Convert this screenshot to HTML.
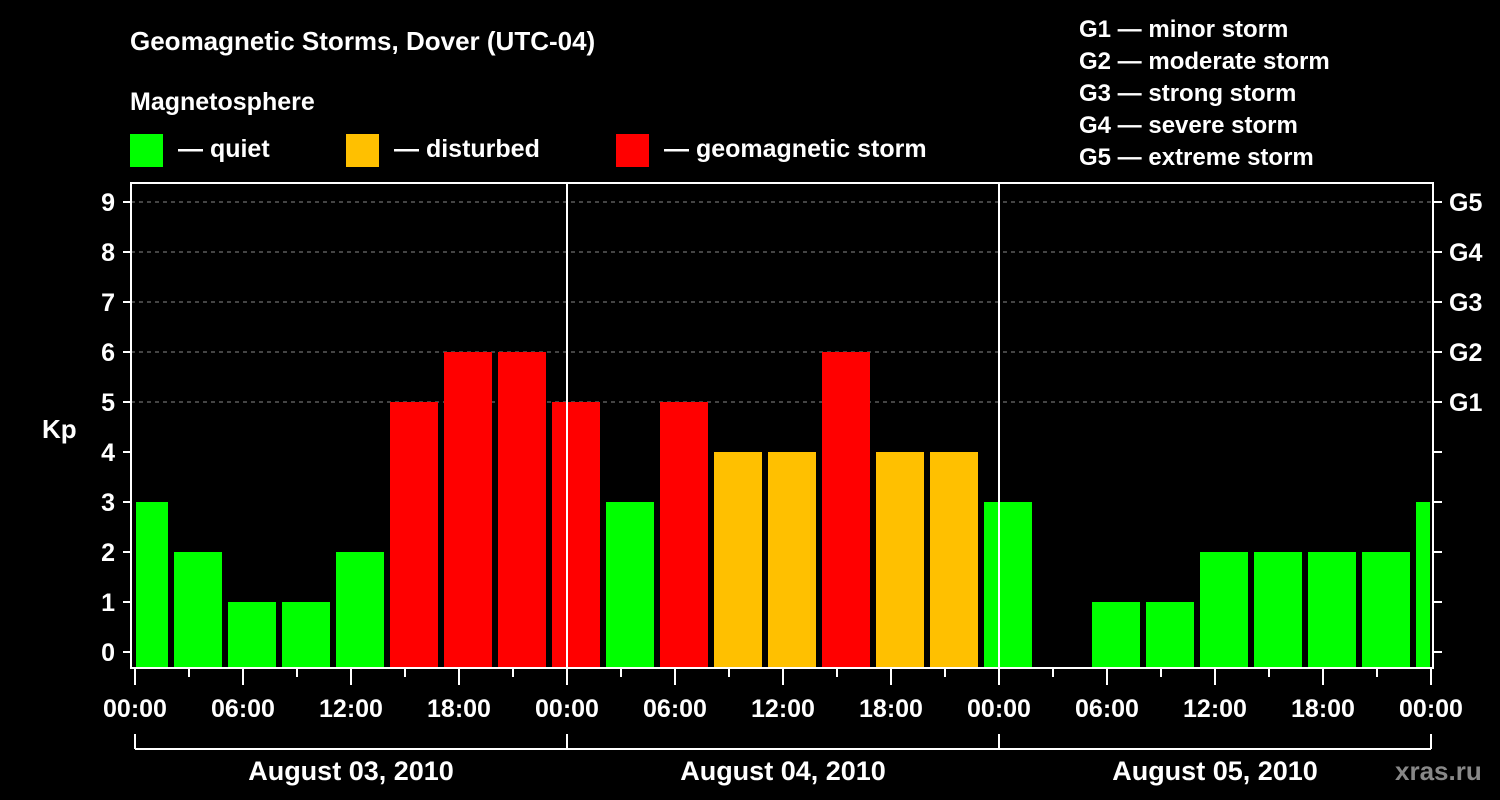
<!DOCTYPE html>
<html><head><meta charset="utf-8"><style>
html,body{margin:0;padding:0;background:#000;width:1500px;height:800px;overflow:hidden}
svg text{font-family:"Liberation Sans",sans-serif;font-weight:bold;fill:#fff}
</style></head><body>
<svg id="chart" width="1500" height="800" xmlns="http://www.w3.org/2000/svg">
<text x="130" y="50" font-size="26">Geomagnetic Storms, Dover (UTC-04)</text>
<text x="130" y="110" font-size="25">Magnetosphere</text>
<rect x="130" y="134" width="33" height="33" fill="#00ff00"/>
<text x="178" y="157" font-size="25">— quiet</text>
<rect x="346" y="134" width="33" height="33" fill="#ffc000"/>
<text x="394" y="157" font-size="25">— disturbed</text>
<rect x="616" y="134" width="33" height="33" fill="#ff0000"/>
<text x="664" y="157" font-size="25">— geomagnetic storm</text>
<g font-size="24">
<text x="1079" y="37">G1 — minor storm</text>
<text x="1079" y="69">G2 — moderate storm</text>
<text x="1079" y="101">G3 — strong storm</text>
<text x="1079" y="133">G4 — severe storm</text>
<text x="1079" y="165">G5 — extreme storm</text>
</g>
<text x="42" y="438" font-size="26">Kp</text>
<text x="1395" y="780" font-size="26" style="fill:#888">xras.ru</text>
<g id="grid"></g><g id="bars"></g><g id="axes"></g>
</svg>
<script>
const kpValues=[3,2,1,1,2,5,6,6,5,3,5,4,4,6,4,4,3,0,1,1,2,2,2,2,3];
const yTicks=[0,1,2,3,4,5,6,7,8,9];
const gLabels=["G1","G2","G3","G4","G5"];
const xTickLabels=["00:00","06:00","12:00","18:00","00:00","06:00","12:00","18:00","00:00","06:00","12:00","18:00","00:00"];
const dayLabels=["August 03, 2010","August 04, 2010","August 05, 2010"];
const NS="http://www.w3.org/2000/svg";
const X0=135,PXH=18,Y0=652,PYU=50,L=131,R=1433,T=183,B=668;
const xs=h=>X0+h*PXH, ys=v=>Y0-v*PYU;
function mk(tag,attrs,parent){const e=document.createElementNS(NS,tag);for(const k in attrs)e.setAttribute(k,attrs[k]);parent.appendChild(e);return e;}
const grid=document.getElementById('grid'),bars=document.getElementById('bars'),axes=document.getElementById('axes');
for(let v=5;v<=9;v++){const l=mk('line',{x1:L,x2:R,y1:ys(v),y2:ys(v),stroke:'#888','stroke-dasharray':'4,4','stroke-width':1},grid);

}
kpValues.forEach((v,i)=>{if(v<=0)return;const h0=-1+3*i;let x1=Math.max(xs(h0)+3,L+5),x2=Math.min(xs(h0+3)-3,R-3);
const c=v>=5?'#ff0000':(v>=4?'#ffc000':'#00ff00');
const r=mk('rect',{x:x1,y:ys(v),width:x2-x1,height:B-ys(v),fill:c},bars);

});
const frame=mk('rect',{x:L,y:T,width:R-L,height:B-T,fill:'none',stroke:'#fff','stroke-width':2},axes);


[1,2].forEach(d=>{const l=mk('line',{x1:xs(24*d),x2:xs(24*d),y1:T,y2:B,stroke:'#fff','stroke-width':2},axes);

});
yTicks.forEach(v=>{mk('line',{x1:123,x2:L,y1:ys(v),y2:ys(v),stroke:'#fff','stroke-width':2},axes);
mk('line',{x1:R,x2:1442,y1:ys(v),y2:ys(v),stroke:'#fff','stroke-width':2},axes);
const t=mk('text',{x:115,y:ys(v)+9,'text-anchor':'end','font-size':25},axes);t.textContent=v;

});
gLabels.forEach((g,i)=>{const t=mk('text',{x:1449,y:ys(5+i)+9,'font-size':25},axes);t.textContent=g;

});
for(let h=0;h<=72;h+=3){const major=h%6===0;mk('line',{x1:xs(h),x2:xs(h),y1:B,y2:major?685:677,stroke:'#fff','stroke-width':2},axes);}
xTickLabels.forEach((s,i)=>{const t=mk('text',{x:xs(6*i),y:717,'text-anchor':'middle','font-size':25},axes);t.textContent=s;

});
mk('line',{x1:xs(0),x2:xs(72),y1:749,y2:749,stroke:'#fff','stroke-width':2},axes);
for(let d=0;d<=3;d++)mk('line',{x1:xs(24*d),x2:xs(24*d),y1:734,y2:749,stroke:'#fff','stroke-width':2},axes);
dayLabels.forEach((s,i)=>{const t=mk('text',{x:xs(24*i+12),y:780,'text-anchor':'middle','font-size':27},axes);t.textContent=s;

});
</script>
</body></html>
